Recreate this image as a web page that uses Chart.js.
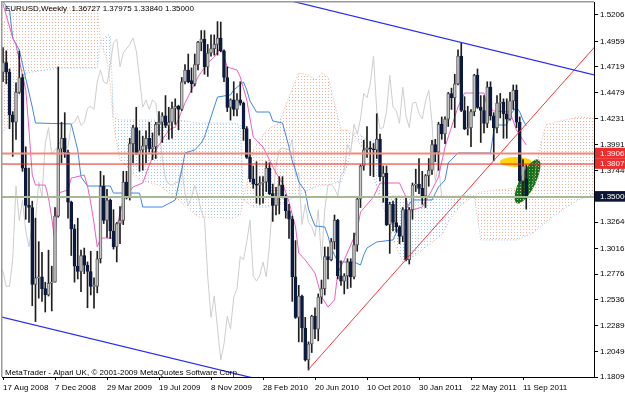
<!DOCTYPE html>
<html>
<head>
<meta charset="utf-8">
<title>EURUSD Weekly</title>
<script src="https://cdn.jsdelivr.net/npm/chart.js@4.4.1/dist/chart.umd.min.js"></script>
<style>
  html, body { margin: 0; padding: 0; background: #fff; }
  canvas { display: block; }
</style>
</head>
<body>
<canvas id="eurusd" width="625" height="393"></canvas>
<script>
// EURUSD weekly: candles, Ichimoku and drawn trend lines

// x axis: week number, 0 = week of 17 Aug 2008
const dateTicks = [0, 16, 32, 48, 64, 80, 96, 112, 128, 144, 160];
const dateLabels = ["17 Aug 2008", "7 Dec 2008", "29 Mar 2009", "19 Jul 2009", "8 Nov 2009", "28 Feb 2010",
  "20 Jun 2010", "10 Oct 2010", "30 Jan 2011", "22 May 2011", "11 Sep 2011"];

const priceTicks = [1.52065, 1.49590, 1.47190, 1.44790, 1.42315, 1.39915, 1.37440,
  1.32640, 1.30165, 1.27765, 1.25365, 1.22890, 1.20490, 1.18090];
// horizontal levels: 1.39063, 1.38079, 1.35000
const levels = [1.39063, 1.38079, 1.35000];

// weekly OHLC
const opens = [
  1.4670, 1.4760, 1.4670, 1.4270, 1.4200, 1.4480, 1.4620, 1.3770, 1.3420, 1.3400,
  1.2680, 1.2740, 1.2750, 1.2640, 1.2580, 1.2690, 1.2700, 1.3320, 1.3950, 1.4050,
  1.3920, 1.3450, 1.3200, 1.2850, 1.2800, 1.2950, 1.2860, 1.2800, 1.2660, 1.2660,
  1.2920, 1.3600, 1.3280, 1.3470, 1.3180, 1.3030, 1.3250, 1.3280, 1.3640, 1.3500,
  1.4000, 1.4150, 1.3900, 1.3940, 1.3980, 1.4050, 1.3950, 1.3970, 1.4180, 1.4200,
  1.4260, 1.4170, 1.4200, 1.4330, 1.4350, 1.4320, 1.4580, 1.4690, 1.4590, 1.4560,
  1.4740, 1.4950, 1.4980, 1.4720, 1.4850, 1.4890, 1.4930, 1.4990, 1.4870, 1.4620,
  1.4340, 1.4410, 1.4320, 1.4410, 1.4380, 1.4140, 1.3870, 1.3670, 1.3620, 1.3610,
  1.3630, 1.3640, 1.3770, 1.3530, 1.3420, 1.3500, 1.3610, 1.3500, 1.3370, 1.3290,
  1.2750, 1.2370, 1.2570, 1.2270, 1.1970, 1.2120, 1.2380, 1.2260, 1.2560, 1.2640,
  1.2940, 1.2910, 1.3080, 1.3280, 1.2760, 1.2710, 1.2760, 1.2890, 1.2750, 1.3050,
  1.3480, 1.3790, 1.3940, 1.3960, 1.3950, 1.3940, 1.4040, 1.3690, 1.3720, 1.3240,
  1.3430, 1.3260, 1.3220, 1.3130, 1.3380, 1.2910, 1.3380, 1.3610, 1.3620, 1.3580,
  1.3510, 1.3700, 1.3750, 1.3990, 1.3920, 1.4180, 1.4090, 1.4230, 1.4470, 1.4430,
  1.4560, 1.4820, 1.4310, 1.4140, 1.4150, 1.4300, 1.4640, 1.4340, 1.4310, 1.4190,
  1.4530, 1.4260, 1.4150, 1.4380, 1.4390, 1.4280, 1.4230, 1.4400, 1.4500, 1.4200,
  1.3650, 1.36727
];
const highs = [
  1.4900, 1.4870, 1.4700, 1.4300, 1.4570, 1.4867, 1.4650, 1.3970, 1.3770, 1.3460,
  1.3300, 1.3080, 1.2980, 1.2700, 1.3000, 1.2850, 1.3400, 1.4719, 1.4200, 1.4290,
  1.3940, 1.3460, 1.3240, 1.3300, 1.3000, 1.3020, 1.2890, 1.2990, 1.2740, 1.2990,
  1.3740, 1.3700, 1.3570, 1.3480, 1.3380, 1.3260, 1.3410, 1.3740, 1.3740, 1.4050,
  1.4170, 1.4340, 1.4120, 1.4070, 1.4120, 1.4200, 1.4100, 1.4200, 1.4300, 1.4290,
  1.4450, 1.4340, 1.4390, 1.4420, 1.4360, 1.4620, 1.4740, 1.4840, 1.4710, 1.4840,
  1.4960, 1.5060, 1.5060, 1.4930, 1.5020, 1.5020, 1.5144, 1.5140, 1.4880, 1.4720,
  1.4420, 1.4580, 1.4470, 1.4580, 1.4390, 1.4160, 1.4040, 1.3790, 1.3830, 1.3690,
  1.3690, 1.3830, 1.3820, 1.3620, 1.3590, 1.3690, 1.3690, 1.3520, 1.3430, 1.3320,
  1.3090, 1.2670, 1.2580, 1.2370, 1.2140, 1.2390, 1.2460, 1.2590, 1.2720, 1.3030,
  1.3030, 1.3110, 1.3330, 1.3290, 1.2900, 1.2780, 1.2920, 1.2920, 1.3160, 1.3500,
  1.3800, 1.4030, 1.4160, 1.4020, 1.4000, 1.4280, 1.4090, 1.3790, 1.3790, 1.3450,
  1.3460, 1.3500, 1.3230, 1.3400, 1.3500, 1.3400, 1.3630, 1.3760, 1.3860, 1.3740,
  1.3710, 1.3860, 1.4030, 1.4040, 1.4200, 1.4250, 1.4250, 1.4480, 1.4520, 1.4650,
  1.4880, 1.4940, 1.4440, 1.4350, 1.4320, 1.4650, 1.4700, 1.4450, 1.4450, 1.4580,
  1.4580, 1.4290, 1.4450, 1.4470, 1.4420, 1.4420, 1.4480, 1.4550, 1.4550, 1.4250,
  1.3850, 1.37975
];
const lows = [
  1.4580, 1.4560, 1.4140, 1.3880, 1.4040, 1.4470, 1.3740, 1.3290, 1.3260, 1.2480,
  1.2330, 1.2550, 1.2520, 1.2420, 1.2570, 1.2430, 1.2700, 1.3310, 1.3820, 1.3870,
  1.3300, 1.2950, 1.2700, 1.2730, 1.2610, 1.2780, 1.2460, 1.2580, 1.2456, 1.2600,
  1.2880, 1.3250, 1.3120, 1.3110, 1.3010, 1.2890, 1.3060, 1.3240, 1.3480, 1.3470,
  1.3820, 1.3900, 1.3740, 1.3750, 1.3820, 1.3920, 1.3850, 1.3860, 1.4080, 1.4010,
  1.4150, 1.4040, 1.4050, 1.4180, 1.4130, 1.4310, 1.4560, 1.4570, 1.4480, 1.4540,
  1.4690, 1.4870, 1.4650, 1.4630, 1.4820, 1.4830, 1.4830, 1.4860, 1.4580, 1.4300,
  1.4220, 1.4260, 1.4260, 1.4360, 1.4030, 1.3860, 1.3640, 1.3580, 1.3440, 1.3430,
  1.3440, 1.3550, 1.3520, 1.3270, 1.3330, 1.3340, 1.3490, 1.3300, 1.3110, 1.2520,
  1.2360, 1.2140, 1.2140, 1.1960, 1.1876, 1.2040, 1.2170, 1.2150, 1.2500, 1.2580,
  1.2730, 1.2900, 1.3010, 1.2730, 1.2670, 1.2590, 1.2640, 1.2650, 1.2730, 1.2990,
  1.3400, 1.3750, 1.3870, 1.3700, 1.3690, 1.3860, 1.3650, 1.3450, 1.3230, 1.2970,
  1.3180, 1.3170, 1.3060, 1.3080, 1.2900, 1.2870, 1.3290, 1.3550, 1.3530, 1.3430,
  1.3400, 1.3600, 1.3710, 1.3830, 1.3750, 1.4040, 1.4000, 1.4160, 1.4320, 1.4150,
  1.4550, 1.4300, 1.4130, 1.4080, 1.3970, 1.4260, 1.4330, 1.4010, 1.4100, 1.4150,
  1.4220, 1.3840, 1.4100, 1.4240, 1.4050, 1.4050, 1.4220, 1.4320, 1.4150, 1.3640,
  1.3500, 1.33840
];
const closes = [
  1.4760, 1.4670, 1.4270, 1.4200, 1.4480, 1.4620, 1.3770, 1.3420, 1.3400, 1.2680,
  1.2740, 1.2750, 1.2640, 1.2580, 1.2690, 1.2700, 1.3320, 1.3950, 1.4050, 1.3920,
  1.3450, 1.3200, 1.2850, 1.2800, 1.2950, 1.2860, 1.2800, 1.2660, 1.2660, 1.2920,
  1.3600, 1.3280, 1.3470, 1.3180, 1.3030, 1.3250, 1.3280, 1.3640, 1.3500, 1.4000,
  1.4150, 1.3900, 1.3940, 1.3980, 1.4050, 1.3950, 1.3970, 1.4180, 1.4200, 1.4260,
  1.4170, 1.4200, 1.4330, 1.4350, 1.4320, 1.4580, 1.4690, 1.4580, 1.4560, 1.4740,
  1.4950, 1.4980, 1.4720, 1.4850, 1.4890, 1.4930, 1.4990, 1.4870, 1.4620, 1.4340,
  1.4410, 1.4320, 1.4410, 1.4380, 1.4140, 1.3870, 1.3670, 1.3620, 1.3610, 1.3630,
  1.3640, 1.3770, 1.3530, 1.3420, 1.3500, 1.3610, 1.3500, 1.3370, 1.3290, 1.2750,
  1.2370, 1.2570, 1.2270, 1.1970, 1.2120, 1.2380, 1.2260, 1.2560, 1.2640, 1.2940,
  1.2910, 1.3080, 1.3280, 1.2760, 1.2710, 1.2760, 1.2890, 1.2750, 1.3050, 1.3480,
  1.3790, 1.3940, 1.3960, 1.3950, 1.3940, 1.4040, 1.3690, 1.3720, 1.3240, 1.3430,
  1.3260, 1.3220, 1.3130, 1.3380, 1.2910, 1.3380, 1.3610, 1.3620, 1.3580, 1.3510,
  1.3700, 1.3750, 1.3990, 1.3920, 1.4180, 1.4090, 1.4230, 1.4470, 1.4430, 1.4560,
  1.4820, 1.4310, 1.4140, 1.4150, 1.4300, 1.4640, 1.4340, 1.4310, 1.4190, 1.4530,
  1.4260, 1.4150, 1.4380, 1.4390, 1.4280, 1.4230, 1.4400, 1.4500, 1.4200, 1.3650,
  1.3790, 1.35000
];

// Ichimoku lines at their turning points
const tenkanIdx = [0, 3, 4, 5, 7, 8, 9, 10, 13, 14, 15, 16, 17, 20, 21, 25, 26, 27, 28, 29,
  30, 34, 35, 37, 40, 43, 45, 47, 49, 51, 53, 56, 58, 60, 63, 65, 67, 69, 72, 73,
  75, 77, 80, 82, 84, 86, 88, 90, 91, 93, 96, 98, 100, 102, 103, 105, 107, 109, 110, 114,
  116, 122, 124, 125, 126, 129, 132, 134, 136, 138, 140, 142, 148, 149, 151, 156, 158, 161];
const tenkan = [1.5309, 1.4990, 1.4925, 1.4784, 1.4503, 1.4127, 1.3705, 1.3611, 1.3611, 1.3490,
  1.3302, 1.3068, 1.3536, 1.3565, 1.3677, 1.3705, 1.3602, 1.3443, 1.3255, 1.3030,
  1.3114, 1.3114, 1.3218, 1.3471, 1.3593, 1.3630, 1.3799, 1.3940, 1.4034, 1.4127,
  1.4156, 1.4381, 1.4503, 1.4625, 1.4756, 1.4812, 1.4906, 1.4718, 1.4690, 1.4625,
  1.4409, 1.4062, 1.3968, 1.3846, 1.3724, 1.3630, 1.3452, 1.3218, 1.2974, 1.2908,
  1.2786, 1.2561, 1.2467, 1.2533, 1.2786, 1.2908, 1.3049, 1.3189, 1.3358, 1.3499,
  1.3630, 1.3630, 1.3499, 1.3349, 1.3377, 1.3405, 1.3565, 1.3687, 1.3968, 1.4156,
  1.4343, 1.4474, 1.4474, 1.4343, 1.4306, 1.4296, 1.4127, 1.3987];

const kijunIdx = [0, 2, 3, 5, 9, 10, 21, 23, 24, 26, 33, 34, 42, 43, 49, 53, 55, 56, 59, 61,
  62, 63, 64, 66, 70, 71, 74, 75, 76, 78, 82, 83, 86, 88, 89, 90, 91, 93, 94, 95,
  96, 99, 100, 101, 102, 103, 108, 110, 111, 112, 115, 120, 121, 122, 123, 124, 125, 126, 132, 134,
  136, 137, 140, 150, 151, 152, 155, 156, 158, 159, 160, 161];
const kijun = [1.5328, 1.5253, 1.4990, 1.4878, 1.4343, 1.4193, 1.4184, 1.3940, 1.3687, 1.3602,
  1.3602, 1.3536, 1.3536, 1.3405, 1.3405, 1.3471, 1.3752, 1.3912, 1.3940, 1.4006,
  1.4062, 1.4156, 1.4249, 1.4437, 1.4456, 1.4503, 1.4578, 1.4503, 1.4399, 1.4296,
  1.4296, 1.4212, 1.4193, 1.3968, 1.3837, 1.3752, 1.3640, 1.3555, 1.3386, 1.3302,
  1.3227, 1.3218, 1.3133, 1.3021, 1.2955, 1.2889, 1.2889, 1.2861, 1.2955, 1.3021,
  1.3077, 1.3096, 1.3161, 1.3218, 1.3236, 1.3386, 1.3433, 1.3471, 1.3471, 1.3593,
  1.3658, 1.3818, 1.3912, 1.3912, 1.4118, 1.4174, 1.4174, 1.4268, 1.4343, 1.4296,
  1.4221, 1.4165];

// cloud edges (Senkou span A / B), shifted 26 weeks ahead
const cloudIdx = [-1, 2, 5, 7, 17, 29, 30, 32, 33, 34, 36, 42, 48, 54, 60, 71, 73, 74, 77, 81,
  85, 88, 91, 94, 96, 98, 100, 102, 104, 106, 108, 110, 112, 114, 116, 118, 120, 123, 127, 131,
  135, 138, 141, 144, 145, 147, 152, 158, 163, 165, 167, 170, 173, 177, 181, 183];
const spanA = [1.5065, 1.5234, 1.5272, 1.5272, 1.5272, 1.5272, 1.4953, 1.4784, 1.4549, 1.4174,
  1.3846, 1.3658, 1.3611, 1.3471, 1.3311, 1.3302, 1.3330, 1.3471, 1.3940, 1.4127,
  1.4193, 1.4437, 1.4662, 1.4643, 1.4596, 1.4662, 1.4625, 1.4381, 1.4127, 1.4127,
  1.4080, 1.3987, 1.3874, 1.3705, 1.3471, 1.3330, 1.3096, 1.2889, 1.2955, 1.3049,
  1.3143, 1.3311, 1.3424, 1.3490, 1.3508, 1.3546, 1.3565, 1.3583, 1.3611, 1.3940,
  1.4174, 1.4202, 1.4221, 1.4249, 1.4240, 1.4240];
const spanB = [1.4080, 1.4174, 1.4456, 1.4662, 1.4709, 1.4709, 1.4953, 1.5018, 1.5018, 1.4240,
  1.4221, 1.4221, 1.4221, 1.4221, 1.4193, 1.4193, 1.4174, 1.3471, 1.3405, 1.3405,
  1.3424, 1.3471, 1.3518, 1.3565, 1.3593, 1.3611, 1.3611, 1.3630, 1.3640, 1.3799,
  1.4099, 1.4080, 1.4034, 1.4034, 1.3752, 1.3565, 1.3508, 1.3508, 1.3508, 1.3508,
  1.3508, 1.3508, 1.3508, 1.3518, 1.3508, 1.3096, 1.3096, 1.3096, 1.3161, 1.3208,
  1.3264, 1.3330, 1.3396, 1.3471, 1.3518, 1.3536];

// trend lines: [week, price] end points
const channelTop = [[85, 1.5365], [185, 1.4620]];
const channelBottom = [[-1, 1.2378], [90, 1.1705]];
const supportLine = [[94, 1.1882], [185, 1.5008]];

// drawn shapes near the last bars
const yellowZone = { x: 157.8, y: 1.3827, dx: 4.9, dy: 0.0047 };
const greenZone = { from: [158.1, 1.3440], to: [164.7, 1.3850], half: 8 };

const canvas = document.getElementById("eurusd");
const ctx2d = canvas.getContext("2d");

function dots(color, bg) {
  const c = document.createElement("canvas");
  c.width = 3; c.height = 3;
  const g = c.getContext("2d");
  if (bg) { g.fillStyle = bg; g.fillRect(0, 0, 3, 3); }
  g.fillStyle = color;
  g.fillRect(1, 1, 1, 1);
  return ctx2d.createPattern(c, "repeat");
}
const peachDots = dots("#ecb29d");
const blueDots = dots("#a3c3e8");
const greenDots = dots("#6fbf6f", "#17701b");

const pts = (xs, ys) => xs.map((x, k) => ({ x: x, y: ys[k] }));
const seg = (p) => p.map(d => ({ x: d[0], y: d[1] }));
const line = (data, color, order, extra) => Object.assign({
  type: "line", data: data, borderColor: color, borderWidth: 1, pointRadius: 0,
  tension: 0, fill: false, order: order
}, extra || {});

const levelColors = ["#f28a7a", "#e8231e", "#a9b894"];
const levelWidths = [2, 1, 2];
const labelBg = { "1.39063": "#ef2b2b", "1.38079": "#ef2b2b", "1.35000": "#0d1633" };

const decor = {
  id: "decor",
  beforeDatasetsDraw(chart) {
    const { ctx, chartArea: a, scales: { x, y } } = chart;
    ctx.save();
    ctx.beginPath();
    ctx.rect(a.left, a.top, a.right - a.left, a.bottom - a.top);
    ctx.clip();
    const cx = x.getPixelForValue(yellowZone.x), cy = y.getPixelForValue(yellowZone.y);
    const rx = x.getPixelForValue(yellowZone.x + yellowZone.dx) - cx;
    const ry = y.getPixelForValue(yellowZone.y - yellowZone.dy) - cy;
    ctx.fillStyle = "#ffd20a";
    ctx.beginPath();
    ctx.ellipse(cx, cy, rx, ry, 0, 0, Math.PI * 2);
    ctx.fill();
    const x1 = x.getPixelForValue(greenZone.from[0]), y1 = y.getPixelForValue(greenZone.from[1]);
    const x2 = x.getPixelForValue(greenZone.to[0]), y2 = y.getPixelForValue(greenZone.to[1]);
    ctx.beginPath();
    ctx.ellipse((x1 + x2) / 2, (y1 + y2) / 2, Math.hypot(x2 - x1, y2 - y1) / 2, greenZone.half,
      Math.atan2(y2 - y1, x2 - x1), 0, Math.PI * 2);
    ctx.fillStyle = greenDots;
    ctx.fill();
    ctx.restore();
  },
  afterDraw(chart) {
    const { ctx, chartArea: a } = chart;
    ctx.save();
    ctx.fillStyle = "#9a9a9a";
    ctx.fillRect(a.left - 1, a.top - 1, a.right - a.left + 1, 1.5);
    ctx.fillRect(a.left - 1, a.top - 1, 1.5, a.bottom - a.top + 1);
    ctx.fillStyle = "#000";
    ctx.font = "8px 'Liberation Sans', Arial, sans-serif";
    ctx.textBaseline = "alphabetic";
    ctx.fillText("EURUSD,Weekly  1.36727 1.37975 1.33840 1.35000", 5, 11);
    ctx.fillText("MetaTrader - Alpari UK, \u00a9 2001-2009 MetaQuotes Software Corp.", 5, 375);
    ctx.restore();
  }
};

const font = { family: "'Liberation Sans', Arial, sans-serif", size: 8 };

new Chart(canvas, {
  type: "bar",
  data: {
    datasets: [
      // horizontal levels
      ...levels.map((v, k) => line([{ x: -2, y: v }, { x: 190, y: v }], levelColors[k], 0,
        { borderWidth: levelWidths[k] })),
      // trend lines
      line(seg(channelTop), "#2b2bf0", 0, { borderWidth: 1.2 }),
      line(seg(channelBottom), "#2b2bf0", 0, { borderWidth: 1.2 }),
      line(seg(supportLine), "#f23a3a", 0),
      // candles
      {
        type: "bar", order: 1, grouped: false, barThickness: 3, minBarLength: 1,
        borderSkipped: false, borderWidth: 1,
        data: opens.map((o, i) => ({ x: i, y: [o, closes[i]] })),
        backgroundColor: opens.map((o, i) => closes[i] >= o ? "#c4c4c4" : "#0b1a3e"),
        borderColor: opens.map((o, i) => closes[i] >= o ? "#5e5e5e" : "#0b1a3e")
      },
      {
        type: "bar", order: 2, grouped: false, barThickness: 1,
        borderSkipped: false, borderWidth: 0,
        data: highs.map((h, i) => ({ x: i, y: [lows[i], h] })),
        backgroundColor: "#1e1e1e"
      },
      // Ichimoku
      line(pts(tenkanIdx, tenkan), "#ee5fc0", 3),
      line(pts(kijunIdx, kijun), "#3f86e6", 3),
      line(closes.map((c, i) => ({ x: i - 26, y: c })), "#cdcdcd", 4),
      line(pts(cloudIdx, spanA), "#ebb09a", 5, {
        borderDash: [1, 2],
        fill: { target: "+1", above: peachDots, below: blueDots }
      }),
      line(pts(cloudIdx, spanB), "#9fc0e6", 5, { borderDash: [1, 2] })
    ]
  },
  options: {
    responsive: false,
    animation: false,
    devicePixelRatio: 1,
    layout: { padding: { left: 2, top: 2, right: 0, bottom: 0 } },
    plugins: { legend: { display: false }, tooltip: { enabled: false } },
    scales: {
      x: {
        type: "linear", position: "bottom", min: -0.3077, max: 181.846, offset: false,
        afterBuildTicks: s => { s.ticks = dateTicks.map(v => ({ value: v })); },
        afterFit: s => { s.height = 16; s.paddingLeft = 0; s.paddingRight = 0; },
        grid: { drawOnChartArea: false, drawTicks: true, tickLength: 3, color: "#000", offset: false },
        border: { display: true, color: "#000", width: 1 },
        ticks: {
          autoSkip: false, maxRotation: 0, align: "start", padding: 3, color: "#000", font: font,
          callback: v => dateLabels[dateTicks.indexOf(v)]
        }
      },
      y: {
        type: "linear", position: "right", min: 1.18105, max: 1.5328,
        afterBuildTicks: s => { s.ticks = priceTicks.concat(levels).map(v => ({ value: v })); },
        afterFit: s => { s.width = 31; s.paddingTop = 0; s.paddingBottom = 0; },
        grid: { drawOnChartArea: false, drawTicks: true, tickLength: 4, color: "#000" },
        border: { display: true, color: "#000", width: 1 },
        ticks: {
          autoSkip: false, padding: 2, font: font,
          color: c => labelBg[c.tick.value.toFixed(5)] ? "#fff" : "#000",
          showLabelBackdrop: c => !!labelBg[c.tick.value.toFixed(5)],
          backdropColor: c => labelBg[c.tick.value.toFixed(5)] || "rgba(0,0,0,0)",
          backdropPadding: { left: 5, right: 12, top: 1, bottom: 0 },
          callback: v => v.toFixed(5)
        }
      }
    }
  },
  plugins: [decor]
});
</script>
</body>
</html>
